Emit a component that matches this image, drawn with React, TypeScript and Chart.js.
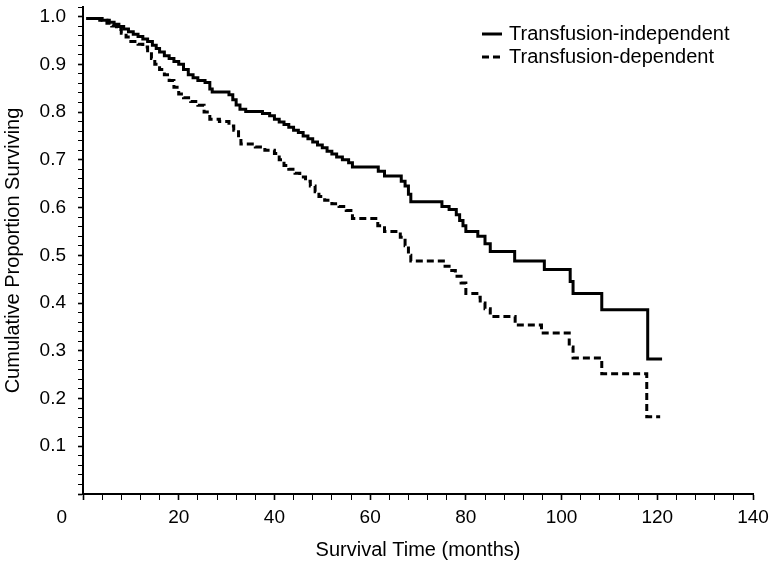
import React, { useEffect, useRef } from "react";
import { Chart, registerables } from "chart.js";

Chart.register(...registerables);

// ---- Data ----
const seriesLabels = ["Transfusion-independent", "Transfusion-dependent"];

const indepTimes = [
  0.7, 4.0, 5.5, 6.5, 7.5, 8.5, 9.5, 10.5, 11.5, 12.5, 13.5, 14.5, 15.3, 16.0, 17.0, 18.0,
  19.0, 20.0, 21.0, 22.0, 23.0, 24.0, 25.5, 26.5, 27.0, 30.5, 31.3, 32.0, 32.8, 34.0, 37.5,
  39.0, 40.0, 41.0, 42.0, 43.0, 44.0, 45.0, 46.0, 47.0, 48.0, 49.0, 50.0, 51.0, 52.0, 53.0,
  54.2, 55.5, 56.3, 61.7, 63.0, 66.5, 67.3, 68.0, 68.5, 75.0, 76.5, 78.0, 78.7, 79.4, 80.0,
  82.5, 84.0, 85.1, 90.2, 96.4, 101.8, 102.4, 108.4, 118.0, 121.0,
];
const indepSurv = [
  0.996, 0.992, 0.988, 0.984, 0.979, 0.974, 0.968, 0.963, 0.958, 0.953, 0.948, 0.94, 0.933,
  0.926, 0.918, 0.912, 0.906, 0.9, 0.889, 0.878, 0.872, 0.866, 0.862, 0.848, 0.842, 0.836,
  0.826, 0.815, 0.806, 0.801, 0.797, 0.792, 0.785, 0.779, 0.774, 0.768, 0.762, 0.757, 0.75,
  0.744, 0.737, 0.731, 0.725, 0.718, 0.712, 0.706, 0.7, 0.694, 0.685, 0.676, 0.666, 0.655,
  0.645, 0.628, 0.612, 0.602, 0.596, 0.585, 0.573, 0.562, 0.55, 0.54, 0.524, 0.508, 0.488,
  0.47, 0.445, 0.42, 0.386, 0.283, 0.283,
];

const depTimes = [
  0.7, 3.5, 5.0, 6.0, 7.0, 8.0, 9.0, 10.0, 11.5, 12.5, 13.5, 14.3, 15.0, 16.0, 17.0, 18.0,
  19.0, 20.0, 21.0, 22.5, 24.0, 25.3, 26.5, 28.5, 30.5, 31.5, 32.5, 33.0, 36.0, 38.0, 40.0,
  41.0, 42.0, 43.0, 44.3, 45.3, 46.5, 47.5, 48.5, 49.3, 50.5, 52.0, 53.5, 55.0, 56.3, 61.6,
  63.0, 66.3, 67.3, 68.0, 68.5, 75.3, 76.5, 77.8, 79.0, 80.0, 82.3, 83.0, 84.0, 85.1, 90.3,
  95.8, 101.6, 102.4, 108.4, 117.8, 120.6,
];
const depSurv = [
  0.996, 0.992, 0.986, 0.98, 0.973, 0.965, 0.957, 0.948, 0.942, 0.936, 0.925, 0.912, 0.9,
  0.889, 0.878, 0.866, 0.852, 0.838, 0.83, 0.822, 0.814, 0.8, 0.785, 0.78, 0.771, 0.762,
  0.745, 0.733, 0.727, 0.72, 0.713, 0.7, 0.688, 0.68, 0.672, 0.664, 0.655, 0.645, 0.633,
  0.623, 0.615, 0.608, 0.602, 0.594, 0.577, 0.562, 0.55, 0.538, 0.52, 0.5, 0.488, 0.477,
  0.468, 0.456, 0.442, 0.42, 0.412, 0.4, 0.388, 0.372, 0.354, 0.337, 0.308, 0.285, 0.252,
  0.162, 0.162,
];

const xTitle = "Survival Time (months)";
const yTitle = "Cumulative Proportion Surviving";

const FONT = "'Liberation Sans', Arial, Helvetica, sans-serif";
const TICK_FS = 19;
const TITLE_FS = 20;
const LEGEND_FS = 20;

const legendPlugin = {
  id: "kmLegend",
  afterDraw(chart: any) {
    const ctx = chart.ctx;
    const area = chart.chartArea;
    const x0 = area.right - 271;
    ctx.save();
    chart.data.datasets.forEach((ds: any, i: number) => {
      const y = area.top + 27 + i * 23;
      ctx.strokeStyle = "#000";
      ctx.lineWidth = 3;
      ctx.setLineDash(ds.borderDash || []);
      ctx.beginPath();
      ctx.moveTo(x0, y);
      ctx.lineTo(x0 + 20, y);
      ctx.stroke();
      ctx.setLineDash([]);
      ctx.fillStyle = "#000";
      ctx.font = `${LEGEND_FS}px ${FONT}`;
      ctx.textBaseline = "middle";
      ctx.textAlign = "left";
      ctx.fillText(ds.label, x0 + 27, y);
    });
    ctx.restore();
  },
};

export default function App() {
  const canvasRef = useRef<HTMLCanvasElement | null>(null);

  useEffect(() => {
    if (!canvasRef.current) return;
    const chart = new Chart(canvasRef.current, {
      type: "line",
      data: {
        datasets: [
          {
            label: seriesLabels[0],
            data: indepTimes.map((t, i) => ({ x: t, y: indepSurv[i] })),
            borderColor: "#000",
            borderWidth: 3,
            stepped: "before",
            pointRadius: 0,
            fill: false,
            borderJoinStyle: "miter",
            borderCapStyle: "butt",
          },
          {
            label: seriesLabels[1],
            data: depTimes.map((t, i) => ({ x: t, y: depSurv[i] })),
            borderColor: "#000",
            borderWidth: 3,
            borderDash: [7, 4],
            stepped: "before",
            pointRadius: 0,
            fill: false,
            borderJoinStyle: "miter",
            borderCapStyle: "butt",
          },
        ],
      },
      options: {
        responsive: false,
        animation: false,
        devicePixelRatio: 1,
        layout: { padding: { top: 7, right: 21, left: 0, bottom: 0 } },
        plugins: {
          legend: { display: false },
          tooltip: { enabled: false },
        },
        scales: {
          x: {
            type: "linear",
            min: 0,
            max: 140,
            afterFit: (s: any) => {
              s.height = 69;
              s.paddingLeft = 0;
              s.paddingRight = 0;
            },
            border: { color: "#000", width: 2 },
            grid: {
              drawOnChartArea: false,
              drawTicks: true,
              tickLength: 6,
              tickColor: "#000",
              tickWidth: (c: any) => (c.tick && c.tick.value % 20 === 0 ? 1.6 : 1),
            },
            ticks: {
              stepSize: 4,
              autoSkip: false,
              maxRotation: 0,
              minRotation: 0,
              padding: 6,
              color: "#000",
              font: { family: FONT, size: TICK_FS },
              callback: (v: any) => {
                const n = Number(v);
                if (n % 20 !== 0) return "";
                return n === 0 ? "0" + " ".repeat(8) : String(n);
              },
            },
            title: {
              display: true,
              text: xTitle,
              color: "#000",
              font: { family: FONT, size: TITLE_FS },
              padding: { top: 4, bottom: 1 },
            },
          },
          y: {
            type: "linear",
            min: 0,
            max: 1.02,
            afterFit: (s: any) => {
              s.width = 83;
              s.paddingTop = 0;
              s.paddingBottom = 0;
            },
            border: { color: "#000", width: 2 },
            grid: {
              drawOnChartArea: false,
              drawTicks: true,
              tickLength: 5,
              tickColor: "#000",
              tickWidth: (c: any) =>
                c.tick && Math.round(c.tick.value * 100) % 10 === 0 ? 1.6 : 1,
            },
            ticks: {
              stepSize: 0.02,
              autoSkip: false,
              padding: 12,
              color: "#000",
              font: { family: FONT, size: TICK_FS },
              callback: (v: any) => {
                const r = Math.round(Number(v) * 100);
                if (r === 0 || r % 10 !== 0) return "";
                return (r / 100).toFixed(1);
              },
            },
            title: {
              display: true,
              text: yTitle,
              color: "#000",
              font: { family: FONT, size: TITLE_FS },
              padding: { top: 1, bottom: 0 },
            },
          },
        },
      },
      plugins: [legendPlugin],
    } as any);
    return () => chart.destroy();
  }, []);

  return (
    <div style={{ position: "absolute", left: 0, top: 0, width: 774, height: 563, background: "#fff" }}>
      <canvas ref={canvasRef} width={774} height={563} style={{ width: 774, height: 563, display: "block" }} />
    </div>
  );
}
